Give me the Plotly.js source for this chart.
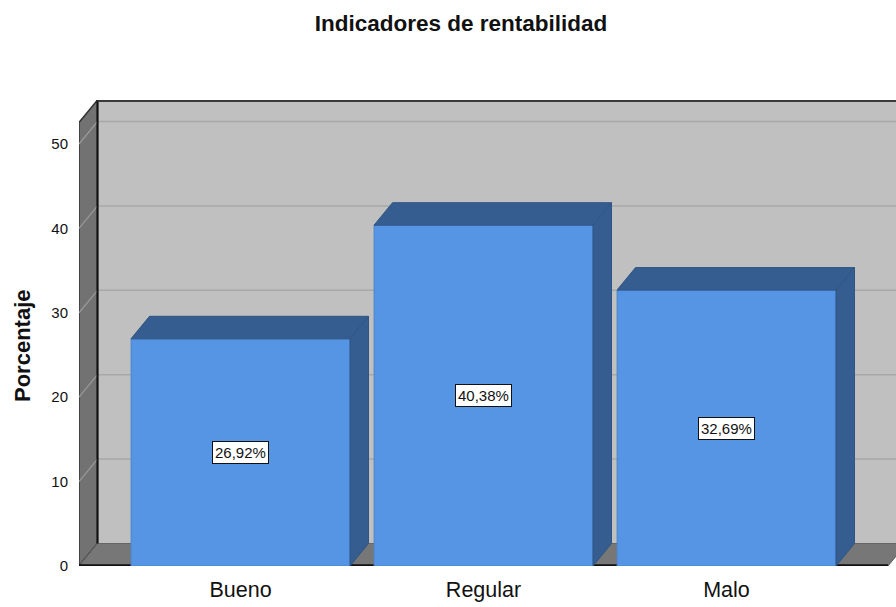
<!DOCTYPE html>
<html>
<head>
<meta charset="utf-8">
<script src="https://cdn.plot.ly/plotly-3.0.1.min.js"></script>
<style>html,body{margin:0;padding:0;background:#fff;}#chart{width:896px;height:607px;}</style>
</head>
<body>
<div id="chart"></div>
<script>
// ---- data ----
var categories = ["Bueno", "Regular", "Malo"];
var percentages = [26.92, 40.38, 32.69];
var yTickValues = [0, 10, 20, 30, 40, 50];
var chartTitle = "Indicadores de rentabilidad";
var yTitle = "Porcentaje";

// ---- geometry / style (not data) ----
var W = 896, H = 607;
var mL = 79, mR = 0, mT = 100, mB = 41;
var plotW = W - mL - mR, plotH = H - mT - mB;
var pxPerCat = 243, pxPerUnit = 8.44;
var xMin = -(240.5 - mL) / pxPerCat;
var xMax = xMin + plotW / pxPerCat;
var yMax = plotH / pxPerUnit;
var dX = 18.5 / pxPerCat;      // depth offset in x data units
var dY = 22.5 / pxPerUnit;     // depth offset in y data units
var barW = 219 / pxPerCat;
var frontRight = xMin + (888 - mL) / pxPerCat;
var wallTopFront = yMax - dY;

var frontColor = "#5595e3", darkFace = "#355d90", edgeColor = "#2f5584";
var wallColor = "#727272";
var fam = "Liberation Sans, Arial, sans-serif";

var xs = categories.map(function (c, i) { return i; });

function fmt(v) { return v.toFixed(2).replace(".", ",") + "%"; }
function P(pts) { return "M" + pts.map(function (p) { return p[0] + "," + p[1]; }).join(" L") + " Z"; }

var shapes = [];
// gridlines on back wall
yTickValues.forEach(function (v) {
  if (v === 0) return;
  shapes.push({type: "line", layer: "below", xref: "x", yref: "y",
    x0: xMin + dX, x1: xMax, y0: v + dY, y1: v + dY,
    line: {color: "#a8a8a8", width: 1.5}});
});
// white corner above left wall
shapes.push({type: "path", layer: "below", xref: "x", yref: "y",
  path: P([[xMin, wallTopFront], [xMin, yMax + 1], [xMin + dX, yMax + 1], [xMin + dX, yMax]]),
  fillcolor: "#ffffff", line: {width: 0}});
// white corner below floor right end
shapes.push({type: "path", layer: "below", xref: "x", yref: "y",
  path: P([[frontRight, 0], [frontRight + dX, dY], [xMax + 1, dY], [xMax + 1, -1], [frontRight, -1]]),
  fillcolor: "#ffffff", line: {width: 0}});
// left wall
shapes.push({type: "path", layer: "below", xref: "x", yref: "y",
  path: P([[xMin, 0], [xMin, wallTopFront], [xMin + dX, yMax], [xMin + dX, dY]]),
  fillcolor: wallColor, line: {color: "#333", width: 1.5}});
yTickValues.forEach(function (v) {
  if (v === 0) return;
  shapes.push({type: "line", layer: "below", xref: "x", yref: "y",
    x0: xMin, x1: xMin + dX, y0: v, y1: v + dY,
    line: {color: "#9a9a9a", width: 1.2}});
});
// floor
shapes.push({type: "path", layer: "below", xref: "x", yref: "y",
  path: P([[xMin, 0], [frontRight, 0], [frontRight + dX, dY], [xMin + dX, dY]]),
  fillcolor: "#777777", line: {color: "#666", width: 1}});
shapes.push({type: "line", layer: "below", xref: "x", yref: "y",
  x0: xMin, x1: frontRight, y0: 0.1, y1: 0.1, line: {color: "#111", width: 2}});
// back wall vertical edge and top edge
shapes.push({type: "line", layer: "below", xref: "x", yref: "y",
  x0: xMin + dX, x1: xMin + dX, y0: dY, y1: yMax, line: {color: "#111", width: 2}});
shapes.push({type: "line", layer: "below", xref: "x", yref: "y",
  x0: xMin + dX, x1: xMax, y0: yMax - 0.12, y1: yMax - 0.12, line: {color: "#3a3a3a", width: 2}});

// 3D bar faces
xs.forEach(function (x, i) {
  var v = percentages[i];
  var l = x - barW / 2, r = x + barW / 2;
  shapes.push({type: "path", layer: "above", xref: "x", yref: "y",
    path: P([[l, v], [l + dX, v + dY], [r + dX, v + dY], [r, v]]),
    fillcolor: darkFace, line: {color: edgeColor, width: 1}});
  shapes.push({type: "path", layer: "above", xref: "x", yref: "y",
    path: P([[r, 0], [r, v], [r + dX, v + dY], [r + dX, dY]]),
    fillcolor: darkFace, line: {color: edgeColor, width: 1}});
});

var annotations = xs.map(function (x, i) {
  return {x: x, y: percentages[i] / 2, xref: "x", yref: "y", text: fmt(percentages[i]),
    showarrow: false, bgcolor: "#ffffff", bordercolor: "#111", borderwidth: 1, borderpad: 2,
    font: {family: fam, size: 15, color: "#111"}};
});
annotations.push({xref: "paper", yref: "paper", x: (22 - mL) / plotW, y: (H - mB - 346) / plotH,
  xanchor: "center", yanchor: "middle", text: "<b>" + yTitle + "</b>", textangle: -90, showarrow: false,
  font: {family: fam, size: 22, color: "#111"}});

var trace = {
  type: "bar", x: xs, y: percentages, width: barW,
  marker: {color: frontColor, line: {color: "#4a82c8", width: 0.8}},
  hoverinfo: "skip", showlegend: false
};

var layout = {
  width: W, height: H,
  margin: {l: mL, r: mR, t: mT, b: mB, pad: 0},
  paper_bgcolor: "#ffffff", plot_bgcolor: "#c0c0c0",
  font: {family: fam, color: "#111"},
  title: {text: "<b>" + chartTitle + "</b>", xref: "container", x: 461 / W, xanchor: "center",
    yref: "container", y: 1 - 23 / H, yanchor: "middle",
    font: {family: fam, size: 22.5, color: "#111"}},
  xaxis: {range: [xMin, xMax], tickvals: xs, ticktext: categories, showgrid: false, zeroline: false,
    showline: false, ticks: "outside", ticklen: 4, tickcolor: "rgba(0,0,0,0)",
    tickfont: {size: 21.5, color: "#111"}, fixedrange: true},
  yaxis: {range: [0, yMax], tickvals: yTickValues, showgrid: false, zeroline: false, showline: false,
    ticks: "outside", ticklen: 7, tickcolor: "rgba(0,0,0,0)",
    tickfont: {size: 15, color: "#111"}, fixedrange: true},
  shapes: shapes,
  annotations: annotations,
  bargap: 0
};

Plotly.newPlot("chart", [trace], layout, {displayModeBar: false, staticPlot: true});
</script>
</body>
</html>
